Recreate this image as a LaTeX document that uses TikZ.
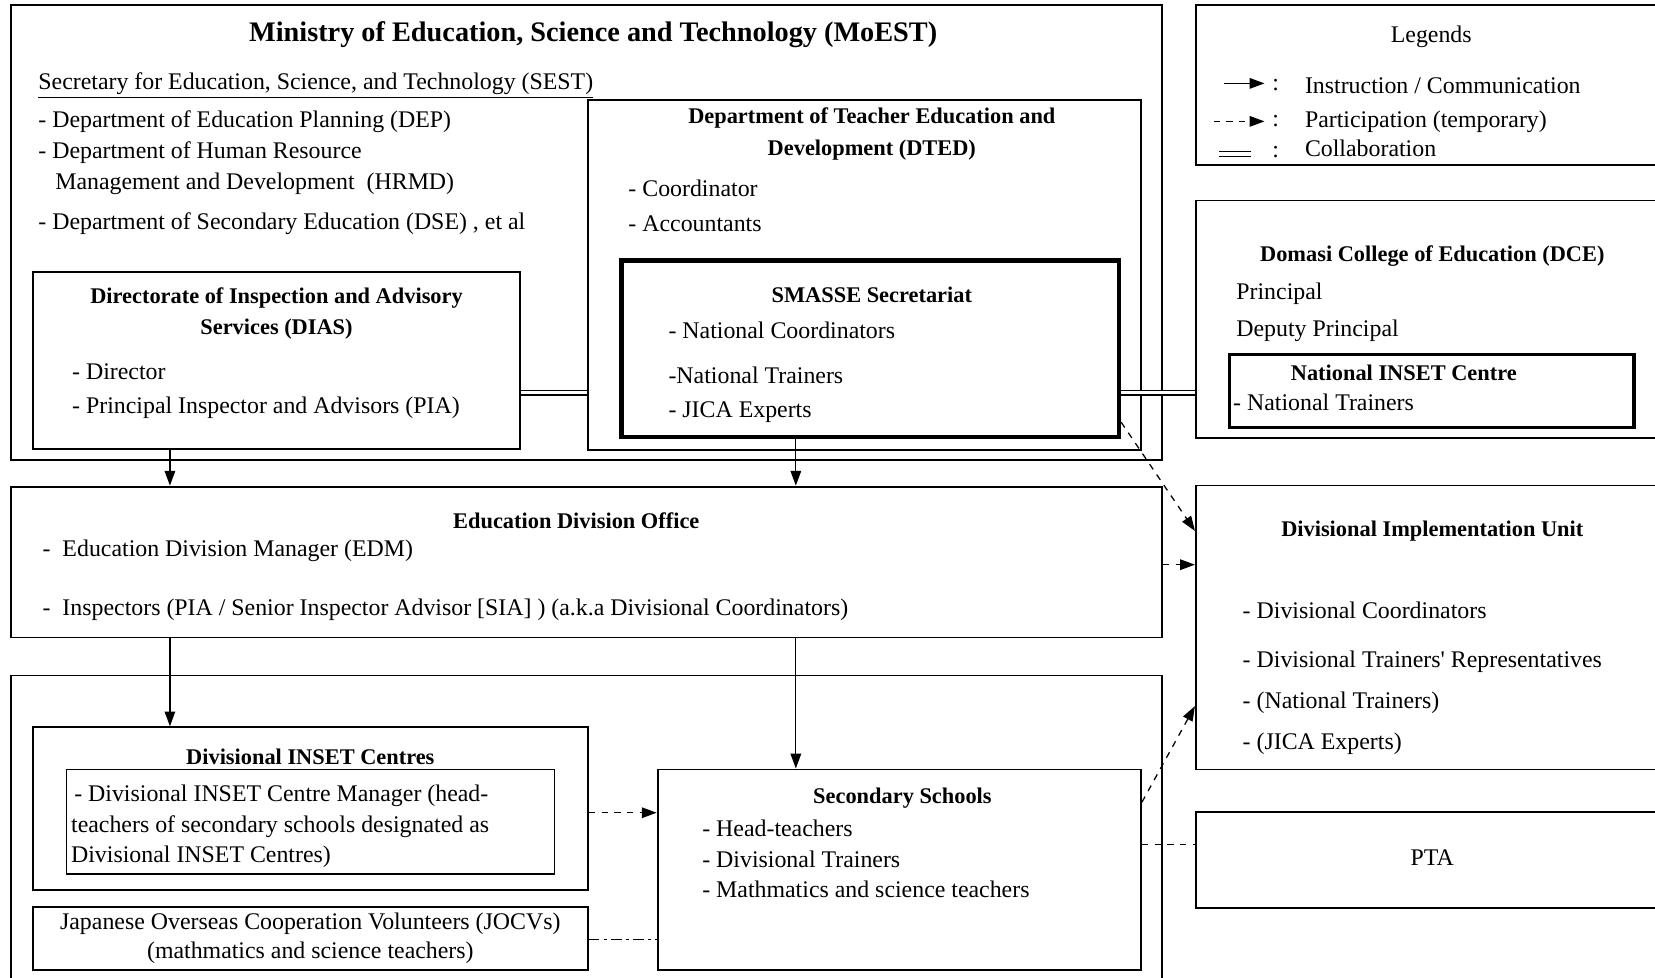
\documentclass[tikz,border=0pt]{standalone}
\usepackage{fontspec}
\setmainfont{Liberation Serif}
\usetikzlibrary{arrows.meta,positioning,fit}

\tikzset{
  box/.style={draw, line width=0.9pt, inner sep=0pt},
  thickbox/.style={draw, line width=2.2pt, inner sep=0pt},
  thinbox/.style={draw, line width=0.6pt, inner sep=0pt},
  txt/.style={anchor=west, inner sep=0pt, font=\fontsize{11.3}{13}\selectfont},
  head/.style={inner sep=0pt, align=center, font=\fontsize{10.6}{15}\selectfont\bfseries},
  instr/.style={-{Triangle[length=7pt,width=5pt]}, line width=0.6pt},
  partic/.style={-{Triangle[length=7pt,width=5pt]}, dashed, line width=0.6pt},
  collab/.style={double, double distance=1.6pt, line width=0.6pt},
}

\begin{document}
\begin{tikzpicture}[x=0.5pt, y=-0.5pt]
  \useasboundingbox (0,0) rectangle (1568,926);

  % boxes
  \node[box, fit={(10,5) (1101,436)}] (moest) {};
  \node[box, fit={(1133,5) (1580,156)}] (legend) {};
  \node[box, fit={(557,95) (1081,426)}] (dted) {};
  \node[thickbox, fit={(589,247) (1060,414)}] (smasse) {};
  \node[box, fit={(31,258) (493,425)}] (dias) {};
  \node[box, fit={(1133,190) (1580,415)}] (dce) {};
  \node[draw, line width=1.6pt, inner sep=0pt, fit={(1165,336) (1548,405)}] (nic) {};
  \node[box, fit={(10,461) (1101,604)}] (edo) {};
  \node[box, fit={(1133,460) (1580,729)}] (diu) {};
  \node[box, fit={(10,640) (1101,940)}] (lower) {};
  \node[box, fit={(31,689) (557,843)}] (dic) {};
  \node[thinbox, fit={(63,729) (525,828)}] (dicin) {};
  \node[box, fit={(31,859) (557,919)}] (jocv) {};
  \node[box, fit={(623,729) (1081,919)}] (ss) {};
  \node[box, fit={(1133,769) (1580,860)}] (pta) {};

  % MoEST
  \node[head, font=\fontsize{13.4}{15}\selectfont\bfseries] (moesttitle) at (562,33) {Ministry of Education, Science and Technology (MoEST)};
  \node[txt] (sest) at (36,81) {\underline{Secretary for Education, Science, and Technology (SEST)}};
  \node[txt] (dep) at (36,115) {- Department of Education Planning (DEP)};
  \node[txt] (hrmd) at (36,145) {- Department of Human Resource};
  \node[txt] (hrmd2) at (52,174) {Management and Development\ \ (HRMD)};
  \node[txt] (dse) at (36,212) {- Department of Secondary Education (DSE) , et al};

  % DIAS
  \node[head] (diastitle) at (262,297) {Directorate of Inspection and Advisory\\Services (DIAS)};
  \node[txt] (director) at (68,352) {- Director};
  \node[txt] (pia) at (68,386) {- Principal Inspector and Advisors (PIA)};

  % DTED
  \node[head] (dtedtitle) at (826,127) {Department of Teacher Education and\\Development (DTED)};
  \node[txt] (coord) at (595,178) {- Coordinator};
  \node[txt] (acc) at (595,212) {- Accountants};

  % SMASSE
  \node[head] (smassetitle) at (826,279) {SMASSE Secretariat};
  \node[txt] (natcoord) at (633,313) {- National Coordinators};
  \node[txt] (nattr) at (633,356) {-National Trainers};
  \node[txt] (jica) at (633,390) {- JICA Experts};

  % legend
  \node[txt, anchor=center] (legtitle) at (1356,35) {Legends};
  \coordinate (l1a) at (1160,79);
  \coordinate (l1b) at (1198,79);
  \coordinate (l2a) at (1150,115);
  \coordinate (l2b) at (1198,115);
  \coordinate (l3a) at (1155,146);
  \coordinate (l3b) at (1185,146);
  \draw[instr] (l1a) -- (l1b);
  \draw[partic] (l2a) -- (l2b);
  \draw[collab] (l3a) -- (l3b);
  \node[txt] (c1) at (1205,81) {:};
  \node[txt] (c2) at (1205,115) {:};
  \node[txt] (c3) at (1205,144) {:};
  \node[txt] (leg1) at (1236,81) {Instruction / Communication};
  \node[txt] (leg2) at (1236,115) {Participation (temporary)};
  \node[txt] (leg3) at (1236,141) {Collaboration};

  % DCE
  \node[head] (dcetitle) at (1357,243) {Domasi College of Education (DCE)};
  \node[txt] (principal) at (1171,278) {Principal};
  \node[txt] (deputy) at (1171,313) {Deputy Principal};
  \node[head] (nictitle) at (1330,353) {National INSET Centre};
  \node[txt] (nictr) at (1168,381) {- National Trainers};

  % Education Division Office
  \node[head] (edotitle) at (546,493) {Education Division Office};
  \node[txt] (edm) at (40,522) {-\ \ Education Division Manager (EDM)};
  \node[txt] (insp) at (40,578) {-\ \ Inspectors (PIA / Senior Inspector Advisor [SIA] ) (a.k.a Divisional Coordinators)};

  % DIU
  \node[head] (diutitle) at (1357,503) {Divisional Implementation Unit};
  \node[txt] (divcoord) at (1177,578) {- Divisional Coordinators};
  \node[txt] (divrep) at (1177,627) {- Divisional Trainers\textquotesingle\ Representatives};
  \node[txt] (divnat) at (1177,666) {- (National Trainers)};
  \node[txt] (divjica) at (1177,705) {- (JICA Experts)};

  % Divisional INSET Centres
  \node[head] (dictitle) at (294,717) {Divisional INSET Centres};
  \node[txt] (dicm1) at (70,754) {- Divisional INSET Centre Manager (head-};
  \node[txt] (dicm2) at (67,783) {teachers of secondary schools designated as};
  \node[txt] (dicm3) at (67,812) {Divisional INSET Centres)};

  % JOCV
  \node[txt, anchor=center, align=center, font=\fontsize{11.3}{14}\selectfont] (jocvtxt) at (294,889) {Japanese Overseas Cooperation Volunteers (JOCVs)\\(mathmatics and science teachers)};

  % Secondary Schools
  \node[head] (sstitle) at (855,756) {Secondary Schools};
  \node[txt] (head) at (665,785) {- Head-teachers};
  \node[txt] (divtr) at (665,814) {- Divisional Trainers};
  \node[txt] (mst) at (665,843) {- Mathmatics and science teachers};

  % PTA
  \node[txt, anchor=center] (ptatxt) at (1357,813) {PTA};

  % connectors
  \draw[instr] (dias.south -| 161,0) -- (edo.north -| 161,0);
  \draw[instr] (smasse.south -| 754,0) -- (edo.north -| 754,0);
  \draw[instr] (edo.south -| 161,0) -- (dic.north -| 161,0);
  \draw[instr] (edo.south -| 754,0) -- (ss.north -| 754,0);
  \draw[collab] (dias.east |- 0,372) -- (dted.west |- 0,372);
  \draw[collab] (smasse.east |- 0,372) -- (dce.west |- 0,372);
  \draw[partic] (smasse.east |- 0,400) -- (diu.west |- 0,503);
  \draw[partic] (edo.east |- 0,535) -- (diu.west |- 0,535);
  \draw[partic] (dic.east |- 0,770) -- (ss.west |- 0,770);
  \draw[partic] (ss.east |- 0,760) -- (diu.west |- 0,669);
  \draw[dash pattern=on 5pt off 2pt on 1.5pt off 2pt, line width=0.6pt] (jocv.east |- 0,890) -- (ss.west |- 0,890);
  \draw[dashed, line width=0.6pt] (ss.east |- 0,800) -- (pta.west |- 0,800);
\end{tikzpicture}
\end{document}
